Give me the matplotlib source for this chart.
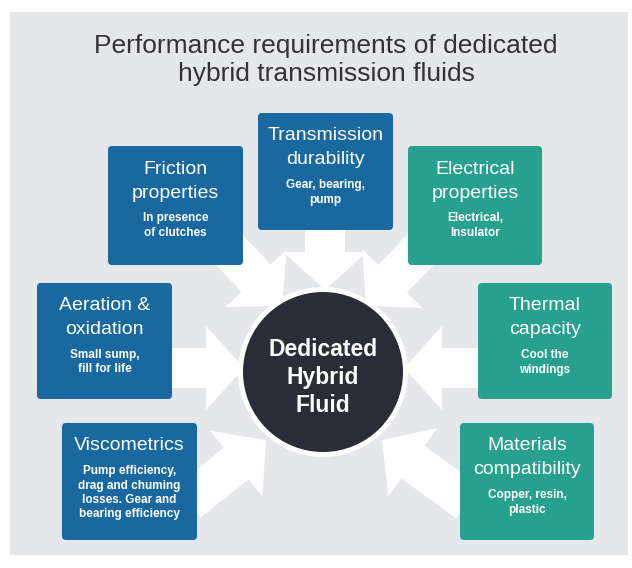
import matplotlib.pyplot as plt
from matplotlib.patches import FancyBboxPatch, Circle, FancyArrow, Rectangle

plt.rcParams['font.family'] = ['Liberation Sans', 'DejaVu Sans']

# content
title = "Performance requirements of dedicated\nhybrid transmission fluids"
center_text = ["Dedicated", "Hybrid", "Fluid"]

box_titles = [
    ["Transmission", "durability"],
    ["Friction", "properties"],
    ["Electrical", "properties"],
    ["Aeration &", "oxidation"],
    ["Thermal", "capacity"],
    ["Viscometrics"],
    ["Materials", "compatibility"],
]
box_notes = [
    ["Gear, bearing,", "pump"],
    ["In presence", "of clutches"],
    ["Electrical,", "Insulator"],
    ["Small sump,", "fill for life"],
    ["Cool the", "windings"],
    ["Pump efficiency,", "drag and chuming", "losses. Gear and", "bearing efficiency"],
    ["Copper, resin,", "plastic"],
]
box_group = ["blue", "blue", "teal", "blue", "teal", "blue", "teal"]

# layout in pixels (x0, y0, x1, y1)
box_pos = [
    (258, 113, 393, 230),
    (108, 146, 243, 265),
    (408, 146, 542, 265),
    (37, 283, 172, 399),
    (478, 283, 612, 399),
    (62, 423, 197, 540),
    (460, 423, 594, 540),
]
# arrow start -> tip
arrows = [
    ((325, 222), (325, 290)),
    ((222, 242), (282, 306)),
    ((428, 242), (366, 306)),
    ((165, 368), (244, 368)),
    ((485, 368), (404, 368)),
    ((188, 502), (266, 440)),
    ((468, 502), (382, 440)),
]

colors = {"blue": "#1a68a0", "teal": "#27a08e"}

fig = plt.figure(figsize=(6.32, 5.68), dpi=100)
ax = fig.add_axes([0, 0, 1, 1])
ax.set_xlim(0, 632)
ax.set_ylim(568, 0)
ax.axis('off')

# panel
ax.add_patch(Rectangle((10, 12), 618, 543, facecolor="#e5e7eb", edgecolor="none", zorder=0))

ax.text(326, 60, title, ha='center', va='center', fontsize=19,
        color="#333333", linespacing=1.2)

for (s, e) in arrows:
    ax.add_patch(FancyArrow(s[0], s[1], e[0] - s[0], e[1] - s[1], width=40,
                            head_width=84, head_length=38, length_includes_head=True,
                            facecolor="white", edgecolor="none", zorder=1))

ax.add_patch(Circle((323, 372), 85, facecolor="white", edgecolor="none", zorder=2))
ax.add_patch(Circle((323, 372), 80, facecolor="#2a2c38", edgecolor="none", zorder=3))
for i, t in enumerate(center_text):
    ax.text(323, 349 + i * 28.5, t, ha='center', va='center', fontsize=16.5,
            fontweight='bold', color="white", zorder=4)

for (x0, y0, x1, y1), tl, nl, g in zip(box_pos, box_titles, box_notes, box_group):
    ax.add_patch(FancyBboxPatch((x0 + 4, y0 + 4), x1 - x0 - 8, y1 - y0 - 8,
                                boxstyle="round,pad=4", facecolor=colors[g],
                                edgecolor="none", zorder=5))
    cx = (x0 + x1) / 2
    y = y0 + 23
    for t in tl:
        ax.text(cx, y, t, ha='center', va='center', fontsize=14, color="white", zorder=6)
        y += 24
    y += 1
    for t in nl:
        ax.text(cx, y, t, ha='center', va='center', fontsize=8.5, fontweight='bold',
                color="white", zorder=6)
        y += 14.5

fig.savefig("out.png", dpi=100)
